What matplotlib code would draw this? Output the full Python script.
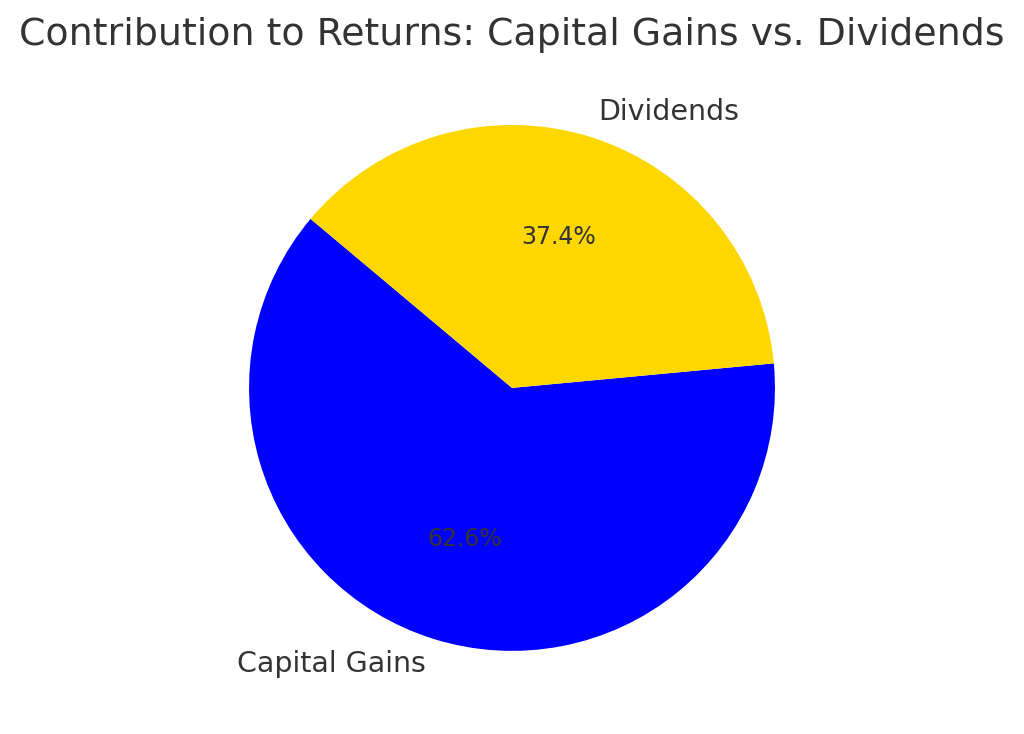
import matplotlib
matplotlib.use("Agg")
import matplotlib.pyplot as plt

labels = ["Capital Gains", "Dividends"]
shares = [62.6, 37.4]
colors = ["#0000FF", "#FFD700"]

text_color = "#333333"

fig = plt.figure(figsize=(10.24, 7.34), dpi=100)
ax = fig.add_axes([0.179, 0.0235, 0.642, 0.896])

wedges, texts, autotexts = ax.pie(shares, labels=labels, colors=colors,
                                  autopct="%1.1f%%", startangle=140,
                                  textprops={"color": text_color})
for t in texts:
    t.set_fontsize(20.5)
for t in autotexts:
    t.set_fontsize(17)
ax.set_aspect("equal")

fig.suptitle("Contribution to Returns: Capital Gains vs. Dividends",
             fontsize=27.3, color=text_color, y=0.952, va="center")

fig.savefig("out.png", dpi=100)
